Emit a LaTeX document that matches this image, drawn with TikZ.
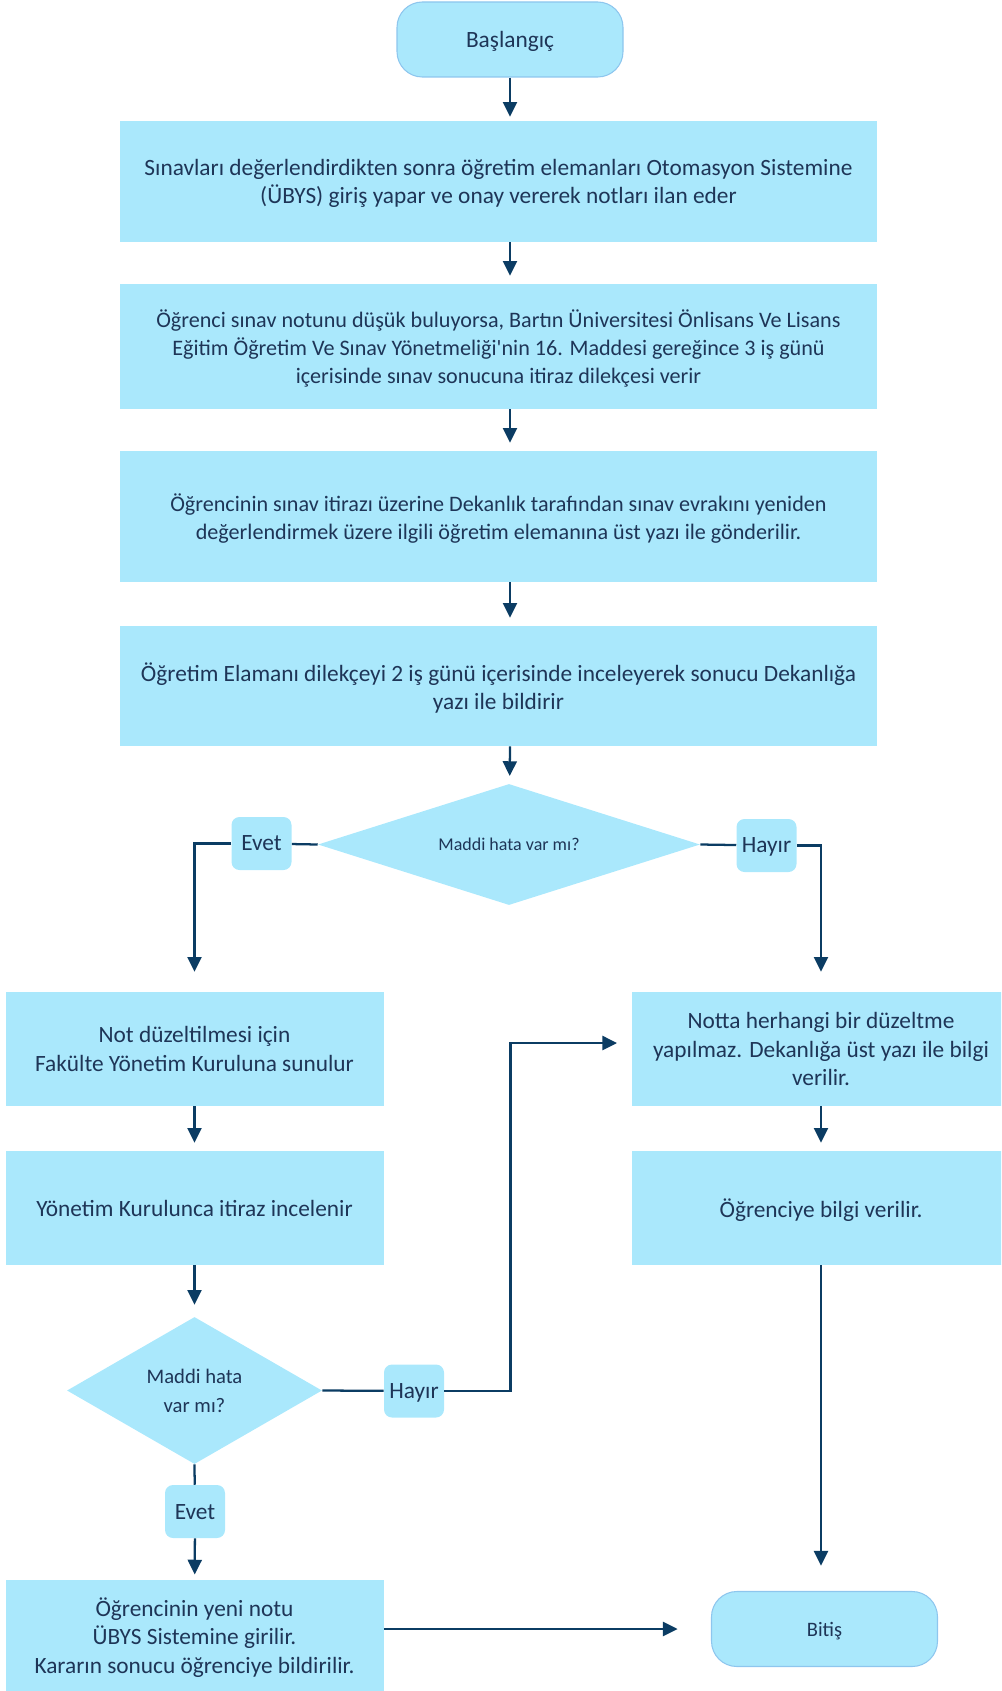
\documentclass[tikz,border=0pt]{standalone}
\usepackage{fontspec}
\setmainfont{Carlito}
\usetikzlibrary{shapes.geometric,arrows.meta}
\definecolor{boxfill}{HTML}{AAE8FC}
\definecolor{boxline}{HTML}{8EC6EE}
\definecolor{textnavy}{HTML}{1E3557}
\definecolor{arrownavy}{HTML}{0B3C63}
\begin{document}
\begin{tikzpicture}[x=0.75pt, y=-0.75pt,
    every node/.style={text=textnavy, font=\fontsize{17.5}{21.5}\selectfont, align=center, inner sep=0pt, text depth=0pt},
    stepbox/.style={rectangle, fill=boxfill, minimum width=757*0.75pt},
    sidebox/.style={rectangle, fill=boxfill, minimum width=378*0.75pt, minimum height=114*0.75pt},
    terminal/.style={rectangle, rounded corners=19pt, fill=boxfill, draw=boxline, line width=0.8pt, minimum width=226*0.75pt, minimum height=75*0.75pt},
    decision/.style={diamond, fill=boxfill},
    answer/.style={rectangle, rounded corners=6pt, fill=boxfill, minimum width=60*0.75pt, minimum height=53*0.75pt},
    link/.style={draw=arrownavy, line width=1.7pt},
    flow/.style={link, -{Triangle[length=11pt, width=10.5pt]}, shorten >=6pt}]
    \useasboundingbox (0, 0) rectangle (1001, 1691);
    \clip (0, 0) rectangle (1001, 1691);
    \node[terminal] (start) at (510, 39.5) {Başlangıç};
    \node[stepbox, minimum height=121*0.75pt] (notlar) at (498.5, 181.5) {Sınavları değerlendirdikten sonra öğretim elemanları Otomasyon Sistemine\\(ÜBYS) giriş yapar ve onay vererek notları ilan eder};
    \node[stepbox, minimum height=125*0.75pt, font=\fontsize{16.6}{21}\selectfont] (dilekce) at (498.5, 346.5) {Öğrenci sınav notunu düşük buluyorsa, Bartın Üniversitesi Önlisans Ve Lisans\\Eğitim Öğretim Ve Sınav Yönetmeliği\textquotesingle nin 16. Maddesi gereğince 3 iş günü\\içerisinde sınav sonucuna itiraz dilekçesi verir};
    \node[stepbox, minimum height=131*0.75pt, font=\fontsize{16.6}{21}\selectfont] (evrak) at (498.5, 516.5) {Öğrencinin sınav itirazı üzerine Dekanlık tarafından sınav evrakını yeniden\\değerlendirmek üzere ilgili öğretim elemanına üst yazı ile gönderilir.};
    \node[stepbox, minimum height=120*0.75pt] (inceleme) at (498.5, 686) {Öğretim Elamanı dilekçeyi 2 iş günü içerisinde inceleyerek sonucu Dekanlığa\\yazı ile bildirir};
    \node[decision, aspect=3.2, minimum width=382*0.75pt, minimum height=121*0.75pt, font=\fontsize{13.5}{16}\selectfont] (hata1) at (509, 844.5) {Maddi hata var mı?};
    \node[answer] (evet1) at (261.5, 843.5) {Evet};
    \node[answer] (hayir1) at (766.5, 845.5) {Hayır};
    \node[sidebox] (kurul) at (194.5, 1049) {Not düzeltilmesi için\\Fakülte Yönetim Kuruluna sunulur};
    \node[sidebox] (duzeltmeyok) at (821, 1049) {Notta herhangi bir düzeltme\\yapılmaz. Dekanlığa üst yazı ile bilgi\\verilir.};
    \node[sidebox] (inceler) at (194.5, 1208) {Yönetim Kurulunca itiraz incelenir};
    \node[sidebox] (bilgi) at (821, 1208) {Öğrenciye bilgi verilir.};
    \node[decision, aspect=1.7, minimum width=255*0.75pt, minimum height=147*0.75pt, font=\fontsize{15.5}{21.5}\selectfont] (hata2) at (194.5, 1390.5) {Maddi hata\\var mı?};
    \node[answer] (hayir2) at (414, 1391) {Hayır};
    \node[answer] (evet2) at (195, 1511.5) {Evet};
    \node[sidebox, minimum height=111*0.75pt] (yeninot) at (194.5, 1635.5) {Öğrencinin yeni notu\\ÜBYS Sistemine girilir.\\Kararın sonucu öğrenciye bildirilir.};
    \node[terminal, font=\fontsize{15.4}{17}\selectfont] (bitis) at (824.5, 1629) {Bitiş};
    \coordinate (kirilma) at (510.5, 1043);
    \draw[flow, shorten >=3pt] (start) -- (start |- notlar.north);
    \draw[flow] (start |- notlar.south) -- (start |- dilekce.north);
    \draw[flow] (start |- dilekce.south) -- (start |- evrak.north);
    \draw[flow] (start |- evrak.south) -- (start |- inceleme.north);
    \draw[flow] (start |- inceleme.south) -- (hata1);
    \draw[link] (hata1.west) -- (evet1);
    \draw[flow, shorten >=15pt] (evet1) -| (kurul.north);
    \draw[link] (hata1.east) -- (hayir1);
    \draw[flow, shorten >=15pt] (hayir1) -| (duzeltmeyok.north);
    \draw[flow] (kurul) -- (inceler);
    \draw[flow] (duzeltmeyok) -- (bilgi);
    \draw[flow, shorten >=9pt] (inceler) -- (hata2);
    \draw[link] (hata2.east) -- (hayir2);
    \draw[flow, shorten >=11pt] (hayir2) -| (kirilma) -- (duzeltmeyok.west |- kirilma);
    \draw[link] (hata2.south) -- (evet2);
    \draw[flow, shorten >=4pt] (evet2) -- (yeninot);
    \draw[flow, shorten >=25pt] (yeninot.east |- bitis) -- (bitis.west);
    \draw[flow, shorten >=19pt] (bilgi) -- (bilgi |- bitis.north);
\end{tikzpicture}
\end{document}
